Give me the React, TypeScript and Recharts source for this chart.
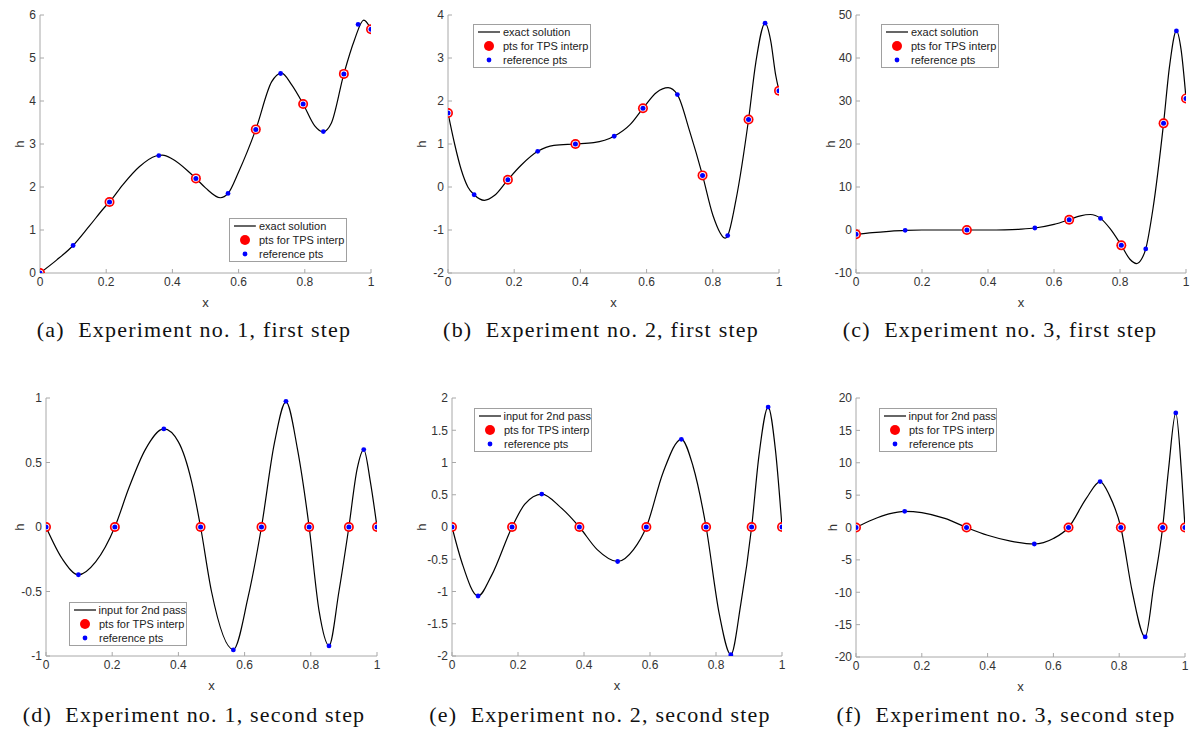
import React from 'react'
import { ComposedChart, Line, Scatter, XAxis, YAxis, Legend } from 'recharts'

// (a) experiment 1, first step
const curveAX = [0, 0.05, 0.1, 0.15, 0.2, 0.21, 0.25, 0.3, 0.35, 0.37, 0.4, 0.45, 0.471, 0.5, 0.545, 0.568, 0.6, 0.652, 0.7, 0.73, 0.76, 0.795, 0.83, 0.855, 0.88, 0.918, 0.95, 0.978, 1]
const curveAH = [0, 0.3, 0.64, 1.1, 1.57, 1.65, 2.05, 2.47, 2.72, 2.74, 2.65, 2.35, 2.2, 1.98, 1.75, 1.85, 2.35, 3.34, 4.45, 4.65, 4.38, 3.93, 3.42, 3.28, 3.48, 4.63, 5.42, 5.88, 5.67]
const tpsAX = [0, 0.21, 0.471, 0.652, 0.795, 0.918, 1]
const tpsAH = [0, 1.65, 2.2, 3.34, 3.93, 4.63, 5.67]
const refAX = [0.1, 0.359, 0.568, 0.727, 0.856, 0.961]
const refAH = [0.64, 2.73, 1.85, 4.64, 3.29, 5.78]

// (b) experiment 2, first step
const curveBX = [0, 0.02, 0.04, 0.06, 0.079, 0.11, 0.14, 0.181, 0.22, 0.271, 0.32, 0.385, 0.44, 0.502, 0.55, 0.589, 0.63, 0.665, 0.693, 0.73, 0.769, 0.8, 0.838, 0.845, 0.87, 0.908, 0.93, 0.958, 0.975, 0.99, 1]
const curveBH = [1.72, 1.0, 0.4, 0.0, -0.18, -0.31, -0.2, 0.17, 0.5, 0.83, 0.97, 1.0, 1.03, 1.18, 1.45, 1.83, 2.2, 2.31, 2.15, 1.3, 0.27, -0.65, -1.19, -1.13, -0.3, 1.57, 2.9, 3.81, 3.4, 2.6, 2.24]
const tpsBX = [0, 0.181, 0.385, 0.589, 0.769, 0.908, 1]
const tpsBH = [1.72, 0.17, 1.0, 1.83, 0.27, 1.57, 2.24]
const refBX = [0.079, 0.271, 0.502, 0.693, 0.845, 0.958]
const refBH = [-0.18, 0.83, 1.18, 2.15, -1.13, 3.81]

// (c) experiment 3, first step
const curveCX = [0, 0.05, 0.1, 0.149, 0.2, 0.25, 0.336, 0.4, 0.45, 0.5, 0.542, 0.6, 0.646, 0.68, 0.71, 0.741, 0.77, 0.804, 0.83, 0.85, 0.865, 0.878, 0.9, 0.932, 0.95, 0.971, 0.985, 1]
const curveCH = [-1.0, -0.6, -0.3, -0.08, 0, 0, 0, 0, 0.05, 0.2, 0.47, 1.3, 2.4, 3.3, 3.6, 2.7, 0.3, -3.57, -6.8, -7.8, -6.8, -4.4, 5, 24.8, 38, 46.3, 42, 30.6]
const tpsCX = [0, 0.336, 0.646, 0.804, 0.932, 1]
const tpsCH = [-1.0, 0, 2.4, -3.57, 24.8, 30.6]
const refCX = [0.149, 0.542, 0.741, 0.878, 0.971]
const refCH = [-0.08, 0.47, 2.7, -4.4, 46.3]

// (d) experiment 1, second step
const curveDX = [0, 0.05, 0.098, 0.15, 0.208, 0.25, 0.3, 0.356, 0.4, 0.44, 0.467, 0.5, 0.566, 0.61, 0.651, 0.69, 0.725, 0.76, 0.795, 0.825, 0.855, 0.885, 0.915, 0.94, 0.96, 0.98, 1]
const curveDH = [0, -0.25, -0.37, -0.27, 0, 0.3, 0.6, 0.76, 0.66, 0.35, 0, -0.5, -0.95, -0.55, 0, 0.65, 0.97, 0.6, 0, -0.65, -0.92, -0.5, 0, 0.45, 0.6, 0.35, 0]
const tpsDX = [0, 0.208, 0.467, 0.651, 0.795, 0.915, 1]
const tpsDH = [0, 0, 0, 0, 0, 0, 0]
const refDX = [0.098, 0.356, 0.566, 0.725, 0.855, 0.96]
const refDH = [-0.37, 0.76, -0.953, 0.974, -0.922, 0.6]

// (e) experiment 2, second step
const curveEX = [0, 0.03, 0.079, 0.12, 0.182, 0.22, 0.272, 0.33, 0.386, 0.44, 0.502, 0.55, 0.589, 0.64, 0.695, 0.73, 0.77, 0.81, 0.845, 0.875, 0.908, 0.93, 0.958, 0.98, 1]
const curveEH = [0, -0.55, -1.07, -0.75, 0, 0.35, 0.51, 0.3, 0, -0.35, -0.535, -0.35, 0, 0.85, 1.36, 0.95, 0, -1.35, -1.98, -1.2, 0, 1.1, 1.86, 1.2, 0]
const tpsEX = [0, 0.182, 0.386, 0.589, 0.77, 0.908, 1]
const tpsEH = [0, 0, 0, 0, 0, 0, 0]
const refEX = [0.079, 0.272, 0.502, 0.695, 0.845, 0.958]
const refEH = [-1.07, 0.51, -0.535, 1.36, -1.98, 1.86]

// (f) experiment 3, second step
const curveFX = [0, 0.05, 0.1, 0.148, 0.2, 0.27, 0.336, 0.4, 0.47, 0.542, 0.6, 0.646, 0.7, 0.742, 0.77, 0.805, 0.84, 0.879, 0.905, 0.932, 0.95, 0.972, 0.99, 1]
const curveFH = [0, 1.2, 2.1, 2.5, 2.3, 1.4, 0, -1.2, -2.1, -2.55, -1.7, 0, 4.5, 7.1, 5, 0, -10, -16.9, -9, 0, 9, 17.7, 8, 0]
const tpsFX = [0, 0.336, 0.646, 0.805, 0.932, 1]
const tpsFH = [0, 0, 0, 0, 0, 0]
const refFX = [0.148, 0.542, 0.742, 0.879, 0.972]
const refFH = [2.5, -2.55, 7.1, -16.9, 17.7]

const xTicks = [0, 0.2, 0.4, 0.6, 0.8, 1]
const yTicksA = [0, 1, 2, 3, 4, 5, 6]
const yTicksB = [-2, -1, 0, 1, 2, 3, 4]
const yTicksC = [-10, 0, 10, 20, 30, 40, 50]
const yTicksD = [-1, -0.5, 0, 0.5, 1]
const yTicksE = [-2, -1.5, -1, -0.5, 0, 0.5, 1, 1.5, 2]
const yTicksF = [-20, -15, -10, -5, 0, 5, 10, 15, 20]

const captions = [
  '(a)  Experiment no. 1, first step',
  '(b)  Experiment no. 2, first step',
  '(c)  Experiment no. 3, first step',
  '(d)  Experiment no. 1, second step',
  '(e)  Experiment no. 2, second step',
  '(f)  Experiment no. 3, second step',
]
const lineLabels = ['exact solution', 'input for 2nd pass']

const zip = (xs: number[], hs: number[]) => xs.map((x, i) => ({ x, h: hs[i] }))

const AXIS = '#a8a8a8'
const TICK_TEXT = '#333333'
const FONT = '"Liberation Sans", Arial, sans-serif'

function TpsMark(props: any) {
  const { cx, cy } = props
  if (cx == null || cy == null) return null
  return (
    <g>
      <circle cx={cx} cy={cy} r={5} fill="#ff0000" />
      <circle cx={cx} cy={cy} r={3.3} fill="#ffffff" />
      <circle cx={cx} cy={cy} r={2.5} fill="#0000ff" />
    </g>
  )
}

function RefMark(props: any) {
  const { cx, cy } = props
  if (cx == null || cy == null) return null
  return <circle cx={cx} cy={cy} r={2.4} fill="#0000ff" />
}

// rotated "h" title, placed a fixed distance left of the axis line
function YTitle(props: any) {
  const vb = props.viewBox || {}
  const x = vb.x + vb.width - props.gap
  const y = vb.y + vb.height / 2
  return (
    <text x={x} y={y} transform={`rotate(-90, ${x}, ${y})`} textAnchor="middle"
      dominantBaseline="central" fontSize={13} fill={TICK_TEXT} fontFamily={FONT}>h</text>
  )
}

function LegendBox({ label }: { label: string }) {
  const row = { display: 'flex', alignItems: 'center', height: 14, whiteSpace: 'nowrap' as const }
  return (
    <div style={{
      border: '1px solid #a0a0a0', background: '#fff', width: 116, height: 42,
      fontFamily: FONT, fontSize: 11, color: '#222', boxSizing: 'content-box',
    }}>
      <div style={row}>
        <svg width={29} height={14}><line x1={4} x2={26} y1={7} y2={7} stroke="#000" strokeWidth={1.2} /></svg>
        <span>{label}</span>
      </div>
      <div style={row}>
        <svg width={29} height={14}><circle cx={15} cy={7} r={5} fill="#ff0000" /></svg>
        <span>pts for TPS interp</span>
      </div>
      <div style={row}>
        <svg width={29} height={14}><circle cx={15} cy={7} r={2.4} fill="#0000ff" /></svg>
        <span>reference pts</span>
      </div>
    </div>
  )
}

type PanelProps = {
  left: number; top: number; plotW: number; plotH: number
  curve: { x: number; h: number }[]
  tps: { x: number; h: number }[]
  ref: { x: number; h: number }[]
  yTicks: number[]
  titleGap: number
  legendLabel: string
  legendPos: { left: number; top: number }
}

function Panel({ left, top, plotW, plotH, curve, tps, ref, yTicks, titleGap, legendLabel, legendPos }: PanelProps) {
  const width = 40 + plotW + 15
  const height = 10 + plotH + 40
  const tickStyle = { fill: TICK_TEXT, fontSize: 12, fontFamily: FONT }
  return (
    <div style={{ position: 'absolute', left, top, width, height }}>
      <ComposedChart width={width} height={height} margin={{ top: 10, right: 15, bottom: 0, left: 0 }}>
        <XAxis
          dataKey="x" type="number" domain={[0, 1]} ticks={xTicks} interval={0}
          allowDataOverflow height={40}
          stroke={AXIS} tickSize={-4} tickMargin={8} tick={tickStyle}
          tickLine={{ stroke: AXIS }} axisLine={{ stroke: AXIS }}
          label={{ value: 'x', position: 'insideBottom', offset: 6, fill: TICK_TEXT, fontSize: 13, fontFamily: FONT }}
        />
        <YAxis
          dataKey="h" type="number" domain={[yTicks[0], yTicks[yTicks.length - 1]]} ticks={yTicks}
          interval={0} allowDataOverflow width={40}
          stroke={AXIS} tickSize={-4} tickMargin={8} tick={tickStyle}
          tickLine={{ stroke: AXIS }} axisLine={{ stroke: AXIS }}
          label={<YTitle gap={titleGap} />}
        />
        <Legend
          layout="vertical" align="center" verticalAlign="middle"
          wrapperStyle={{ left: legendPos.left, top: legendPos.top, width: 118, height: 44 }}
          content={() => <LegendBox label={legendLabel} />}
        />
        <Line data={curve} dataKey="h" type="monotone" stroke="#000000" strokeWidth={1.2}
          dot={false} activeDot={false} isAnimationActive={false} legendType="line" />
        <Scatter data={tps} dataKey="h" shape={<TpsMark />} isAnimationActive={false} />
        <Scatter data={ref} dataKey="h" shape={<RefMark />} isAnimationActive={false} />
      </ComposedChart>
    </div>
  )
}

function Caption({ text, cx, cy }: { text: string; cx: number; cy: number }) {
  return (
    <div style={{
      position: 'absolute', left: cx - 200, top: cy - 14, width: 400, height: 28,
      textAlign: 'center', whiteSpace: 'pre', fontFamily: '"Liberation Serif", "Times New Roman", serif',
      fontSize: 22, letterSpacing: 1.2, lineHeight: '28px', color: '#111',
    }}>{text}</div>
  )
}

export default function App() {
  return (
    <div style={{ position: 'absolute', left: 0, top: 0, width: 1190, height: 729, overflow: 'hidden', background: '#fff' }}>
      <Panel left={0} top={5} plotW={331} plotH={258} titleGap={21}
        curve={zip(curveAX, curveAH)} tps={zip(tpsAX, tpsAH)} ref={zip(refAX, refAH)}
        yTicks={yTicksA} legendLabel={lineLabels[0]} legendPos={{ left: 229, top: 213 }} />
      <Panel left={408} top={5} plotW={331} plotH={258} titleGap={27}
        curve={zip(curveBX, curveBH)} tps={zip(tpsBX, tpsBH)} ref={zip(refBX, refBH)}
        yTicks={yTicksB} legendLabel={lineLabels[0]} legendPos={{ left: 65, top: 19 }} />
      <Panel left={816} top={5} plotW={330} plotH={258} titleGap={26}
        curve={zip(curveCX, curveCH)} tps={zip(tpsCX, tpsCH)} ref={zip(refCX, refCH)}
        yTicks={yTicksC} legendLabel={lineLabels[0]} legendPos={{ left: 65, top: 19 }} />
      <Panel left={6} top={388} plotW={331} plotH={258} titleGap={27}
        curve={zip(curveDX, curveDH)} tps={zip(tpsDX, tpsDH)} ref={zip(refDX, refDH)}
        yTicks={yTicksD} legendLabel={lineLabels[1]} legendPos={{ left: 63, top: 214 }} />
      <Panel left={412} top={388} plotW={330} plotH={258} titleGap={31}
        curve={zip(curveEX, curveEH)} tps={zip(tpsEX, tpsEH)} ref={zip(refEX, refEH)}
        yTicks={yTicksE} legendLabel={lineLabels[1]} legendPos={{ left: 62, top: 20 }} />
      <Panel left={816} top={388} plotW={329} plotH={259} titleGap={24}
        curve={zip(curveFX, curveFH)} tps={zip(tpsFX, tpsFH)} ref={zip(refFX, refFH)}
        yTicks={yTicksF} legendLabel={lineLabels[1]} legendPos={{ left: 63, top: 20 }} />
      <Caption text={captions[0]} cx={194} cy={330} />
      <Caption text={captions[1]} cx={601} cy={330} />
      <Caption text={captions[2]} cx={1000} cy={330} />
      <Caption text={captions[3]} cx={194} cy={715} />
      <Caption text={captions[4]} cx={600} cy={715} />
      <Caption text={captions[5]} cx={1006} cy={715} />
    </div>
  )
}
